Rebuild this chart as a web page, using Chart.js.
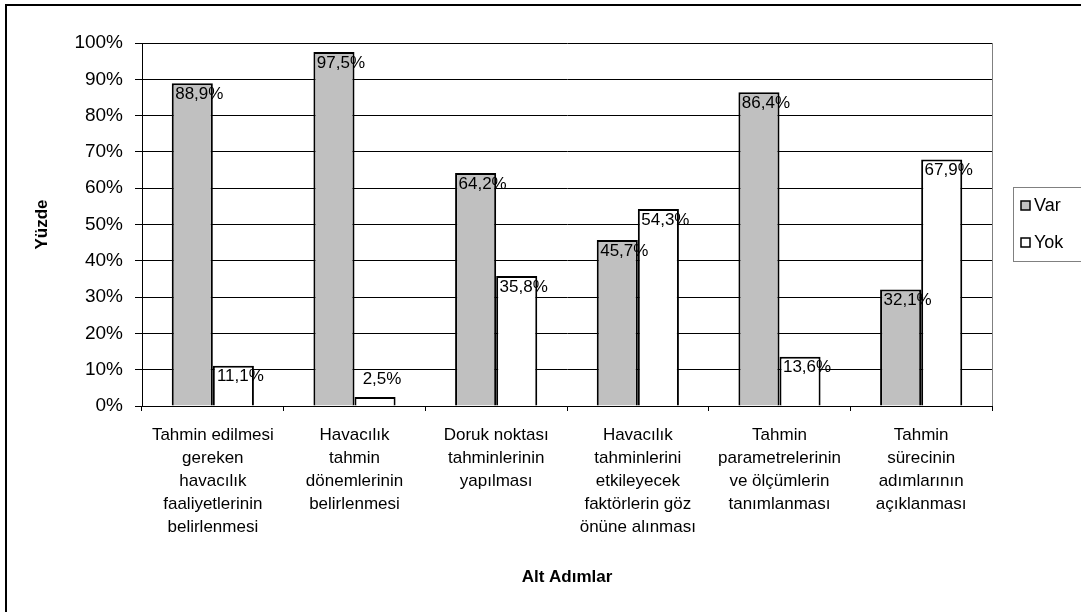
<!DOCTYPE html>
<html>
<head>
<meta charset="utf-8">
<script src="https://cdn.jsdelivr.net/npm/chart.js@4/dist/chart.umd.min.js"></script>
<style>
  body { margin: 0; background: #fff; }
  canvas { display: block; }
</style>
</head>
<body>
<canvas id="myChart" width="1081" height="612"></canvas>
<script>
// Category labels (multi-line, as in the original)
const categories = [
  ["Tahmin edilmesi", "gereken", "havacılık", "faaliyetlerinin", "belirlenmesi"],
  ["Havacılık", "tahmin", "dönemlerinin", "belirlenmesi"],
  ["Doruk noktası", "tahminlerinin", "yapılması"],
  ["Havacılık", "tahminlerini", "etkileyecek", "faktörlerin göz", "önüne alınması"],
  ["Tahmin", "parametrelerinin", "ve ölçümlerin", "tanımlanması"],
  ["Tahmin", "sürecinin", "adımlarının", "açıklanması"],
];

// Series values (percent)
const varValues = [88.9, 97.5, 64.2, 45.7, 86.4, 32.1];
const yokValues = [11.1, 2.5, 35.8, 54.3, 13.6, 67.9];

// Series names
const seriesNames = ["Var", "Yok"];

// Y axis ticks
const yTicks = [0, 10, 20, 30, 40, 50, 60, 70, 80, 90, 100];

const fontMain = "'Liberation Sans', Arial, sans-serif";

// Format numbers with a comma, Turkish style
function pct(v) {
  return v.toFixed(1).replace(".", ",") + "%";
}

// Draws the outer frame, value labels, axis titles and the legend
const extras = {
  id: "extras",
  afterDraw(chart) {
    const ctx = chart.ctx;
    const area = chart.chartArea;
    ctx.save();

    // outer frame (only top and left are visible in the picture)
    ctx.strokeStyle = "#000";
    ctx.lineWidth = 2;
    ctx.beginPath();
    ctx.moveTo(6, 612);
    ctx.lineTo(6, 5);
    ctx.lineTo(1081, 5);
    ctx.stroke();

    // plot area right edge
    ctx.strokeStyle = "#808080";
    ctx.lineWidth = 1;
    ctx.beginPath();
    ctx.moveTo(Math.round(area.right) + 0.5, area.top);
    ctx.lineTo(Math.round(area.right) + 0.5, area.bottom);
    ctx.stroke();

    // value labels
    ctx.fillStyle = "#000";
    ctx.font = "17px " + fontMain;
    ctx.textAlign = "center";
    ctx.textBaseline = "middle";
    chart.data.datasets.forEach((ds, i) => {
      chart.getDatasetMeta(i).data.forEach((bar, j) => {
        const y = Math.min(bar.y + 11, bar.base - 26);
        ctx.fillText(pct(ds.data[j]), bar.x + 7, y);
      });
    });

    // axis titles
    ctx.font = "bold 17px " + fontMain;
    ctx.fillText("Alt Adımlar", (area.left + area.right) / 2, 577);
    ctx.save();
    ctx.translate(42, (area.top + area.bottom) / 2);
    ctx.rotate(-Math.PI / 2);
    ctx.fillText("Yüzde", 0, 0);
    ctx.restore();

    // legend
    ctx.strokeStyle = "#808080";
    ctx.lineWidth = 1;
    ctx.strokeRect(1013.5, 187.5, 100, 74);
    ctx.font = "18px " + fontMain;
    ctx.textAlign = "left";
    const legendY = [206, 243];
    chart.data.datasets.forEach((ds, i) => {
      ctx.fillStyle = ds.backgroundColor;
      ctx.fillRect(1021, legendY[i] - 5, 9, 9);
      ctx.strokeStyle = "#000";
      ctx.lineWidth = 1.5;
      ctx.strokeRect(1021, legendY[i] - 5, 9, 9);
      ctx.fillStyle = "#000";
      ctx.fillText(ds.label, 1034, legendY[i]);
    });

    ctx.restore();
  },
};

const ctx = document.getElementById("myChart").getContext("2d");
const chart = new Chart(ctx, {
  type: "bar",
  data: {
    labels: categories,
    datasets: [
      {
        label: seriesNames[0],
        data: varValues,
        backgroundColor: "#c0c0c0",
        borderColor: "#000",
        borderWidth: 2,
        categoryPercentage: 0.58,
        barPercentage: 1,
      },
      {
        label: seriesNames[1],
        data: yokValues,
        backgroundColor: "#ffffff",
        borderColor: "#000",
        borderWidth: 2,
        categoryPercentage: 0.58,
        barPercentage: 1,
      },
    ],
  },
  options: {
    responsive: false,
    animation: false,
    layout: {
      padding: { top: 43, right: 89, left: 0, bottom: 0 },
    },
    plugins: {
      legend: { display: false },
      tooltip: { enabled: false },
    },
    scales: {
      x: {
        grid: {
          offset: true,
          drawOnChartArea: false,
          color: "#000",
          tickLength: 5,
        },
        border: { color: "#000", width: 1 },
        ticks: {
          color: "#000",
          font: { family: fontMain, size: 17, lineHeight: 23 / 17 },
          padding: 13,
          maxRotation: 0,
          autoSkip: false,
        },
        afterFit(scale) {
          scale.height = 206;
        },
      },
      y: {
        min: 0,
        max: 100,
        afterBuildTicks(scale) {
          scale.ticks = yTicks.map((v) => ({ value: v }));
        },
        grid: {
          color: "#000",
          tickLength: 7,
        },
        border: { color: "#000", width: 1 },
        ticks: {
          color: "#000",
          font: { family: fontMain, size: 19 },
          padding: 12,
          callback: (v) => v + "%",
        },
        afterFit(scale) {
          scale.width = 142;
        },
      },
    },
  },
  plugins: [extras],
});
</script>
</body>
</html>
